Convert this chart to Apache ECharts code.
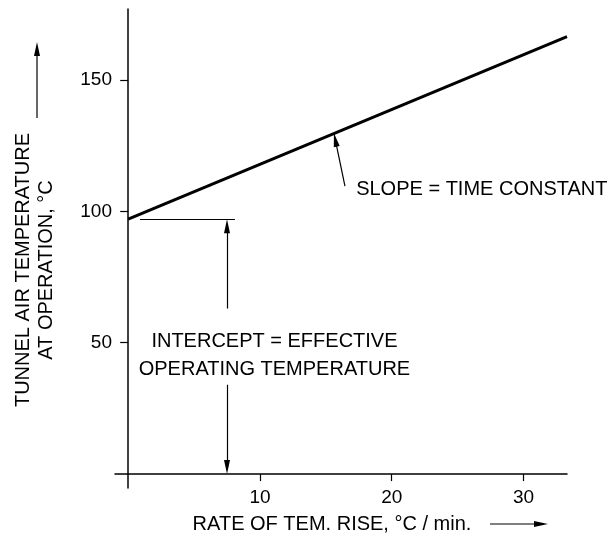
<!DOCTYPE html>
<html>
<head>
<meta charset="utf-8">
<script src="https://cdn.jsdelivr.net/npm/echarts@6/dist/echarts.min.js"></script>
<style>html,body{margin:0;padding:0;background:#fff}#c{width:611px;height:541px}</style>
</head>
<body>
<div id="c"></div>
<script>
// ---- data ----
const rateX = [0, 33.3];          // rate of temperature rise, °C/min
const tempY = [97, 166.5];        // tunnel air temperature at operation, °C
const xTicks = [10, 20, 30];
const yTicks = [50, 100, 150];
const interceptLine = [[0.9, 97], [8.1, 97]];
const interceptArrowUp = [[7.5, 63], [7.5, 94.3]];
const interceptArrowDown = [[7.5, 34], [7.5, 2.7]];
const slopeArrow = [[16.45, 109.6], [15.72, 127.2]];
const interceptLabelAt = [11.1, 45.0];
const slopeLabelAt = [17.3, 108.3];

const font = 'Liberation Sans, Arial, sans-serif';
const chart = echarts.init(document.getElementById('c'), null, {renderer: 'canvas'});

const seg = (p, noSym) => noSym
  ? [{coord: p[0], symbol: 'none'}, {coord: p[1], symbol: 'none'}]
  : [{coord: p[0]}, {coord: p[1]}];

chart.setOption({
  animation: false,
  backgroundColor: '#fff',
  grid: {left: 115, right: 44, top: 9, bottom: 53, containLabel: false},
  xAxis: {
    type: 'value', min: -1, max: 33.3,
    axisLine: {onZero: true, lineStyle: {color: '#000', width: 1.5}},
    axisTick: {show: true, length: 7, customValues: xTicks, lineStyle: {color: '#000', width: 1.2}},
    axisLabel: {customValues: xTicks, color: '#000', fontSize: 19, fontFamily: font, margin: 0},
    splitLine: {show: false}
  },
  yAxis: {
    type: 'value', min: -5.3, max: 177,
    axisLine: {show: true, onZero: true, lineStyle: {color: '#000', width: 1.5}},
    axisTick: {show: true, length: 8, customValues: yTicks, lineStyle: {color: '#000', width: 1.2}},
    axisLabel: {customValues: yTicks, color: '#000', fontSize: 19, fontFamily: font, margin: 3},
    splitLine: {show: false}
  },
  series: [{
    type: 'line',
    data: rateX.map((x, i) => [x, tempY[i]]),
    symbol: 'none',
    lineStyle: {color: '#000', width: 3},
    markLine: {
      silent: true,
      symbol: ['none', 'triangle'],
      symbolSize: [6, 14],
      label: {show: false},
      lineStyle: {color: '#000', width: 1.2, type: 'solid'},
      data: [
        seg(interceptLine, true),
        seg(interceptArrowUp),
        seg(interceptArrowDown),
        seg(slopeArrow)
      ]
    },
    markPoint: {
      silent: true,
      symbol: 'circle', symbolSize: 0,
      data: [
        {coord: interceptLabelAt, label: {show: true, position: 'inside', formatter: 'INTERCEPT = EFFECTIVE\nOPERATING TEMPERATURE', color: '#000', fontSize: 20, fontFamily: font, lineHeight: 28, align: 'center', verticalAlign: 'middle'}},
        {coord: slopeLabelAt, label: {show: true, position: 'right', distance: 0, formatter: 'SLOPE = TIME CONSTANT', color: '#000', fontSize: 20, fontFamily: font, align: 'left', verticalAlign: 'middle'}}
      ]
    }
  }],
  graphic: [
    {type: 'text', x: 35, y: 270, rotation: Math.PI / 2,
      style: {text: 'TUNNEL AIR TEMPERATURE\nAT OPERATION, °C', font: '20px ' + font, fill: '#000', align: 'center', verticalAlign: 'middle', lineHeight: 23}},
    {type: 'line', shape: {x1: 37, y1: 118, x2: 37, y2: 52}, style: {stroke: '#000', lineWidth: 1.2}},
    {type: 'polygon', shape: {points: [[37, 42], [34, 56], [40, 56]]}, style: {fill: '#000'}},
    {type: 'text', x: 332, y: 524, style: {text: 'RATE OF TEM. RISE, °C / min.', font: '20px ' + font, fill: '#000', align: 'center', verticalAlign: 'middle'}},
    {type: 'line', shape: {x1: 490, y1: 524, x2: 535, y2: 524}, style: {stroke: '#000', lineWidth: 1.2}},
    {type: 'polygon', shape: {points: [[548, 524], [534, 521], [534, 527]]}, style: {fill: '#000'}}
  ]
});
</script>
</body>
</html>
